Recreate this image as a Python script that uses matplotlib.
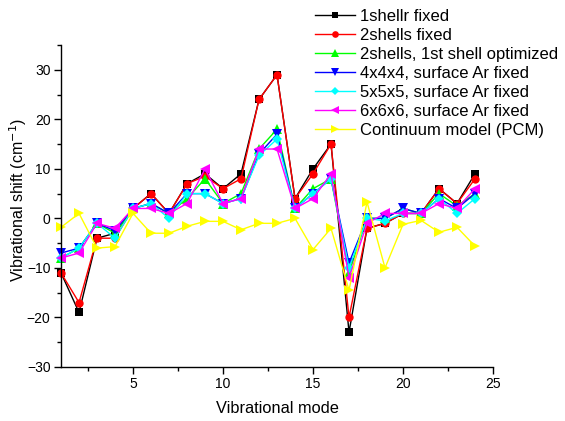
import matplotlib
matplotlib.use("Agg")
import matplotlib.pyplot as plt
from matplotlib.ticker import MultipleLocator

plt.rcParams['font.family'] = ['Liberation Sans', 'DejaVu Sans']

modes = list(range(1, 25))

shell1_fixed = [-11, -19, -4, -3, 2, 5, 1, 7, 9, 6, 9, 24, 29, 4, 10, 15, -23, -2, -1, 1, 1, 6, 3, 9]
shells2_fixed = [-11, -17, -4, -4, 2, 5, 1, 7, 8.5, 6, 8, 24, 29, 4, 9, 15, -20, -2, -1, 1, 1, 6, 3, 8]
shells2_opt = [-8, -6, -1, -3, 2, 3, 1, 4, 8, 3, 5, 14, 18, 2, 6, 8, -11, 0, 0, 2, 1, 5, 2.5, 5]
ar4 = [-7, -6, -1, -2.5, 2, 3, 1, 5, 5, 3, 4, 13, 17, 2, 5, 8, -9, 0, 0, 2, 1, 4, 2, 5]
ar5 = [-8, -6, -1, -4, 2, 3, 0, 5, 5, 3, 4, 12.7, 16, 2, 5, 8, -10, 0, -0.5, 1, 1, 4, 1, 4]
ar6 = [-8, -7, -1, -2, 2, 2, 1, 3, 10, 3, 4, 14, 14, 2, 4, 9, -12, -1, 1, 1, 1, 3, 2, 6]
pcm = [-1.8, 1, -6, -5.7, 1, -3, -3, -1.6, -0.6, -0.6, -2.3, -1, -1, 0, -6.3, -2, -14.5, 3.3, -10, -1.2, -0.4, -2.8, -1.8, -5.6]

series = [
    ("1shellr fixed", shell1_fixed, "black", "s", 5.5),
    ("2shells fixed", shells2_fixed, "red", "o", 6),
    ("2shells, 1st shell optimized", shells2_opt, "#00ff00", "^", 7),
    ("4x4x4, surface Ar fixed", ar4, "blue", "v", 7),
    ("5x5x5, surface Ar fixed", ar5, "cyan", "D", 5.5),
    ("6x6x6, surface Ar fixed", ar6, "magenta", "<", 7),
    ("Continuum model (PCM)", pcm, "yellow", ">", 7),
]

fig = plt.figure(figsize=(5.65, 4.21), dpi=100)
ax = fig.add_axes([0.108, 0.1283, 0.7646, 0.7648])

for label, vals, color, marker, ms in series:
    ax.plot(modes, vals, color=color, marker=marker, ms=ms, lw=1.0,
            markeredgewidth=0, label=label, clip_on=False)

ax.set_xlim(1, 25)
ax.set_ylim(-30, 35)
ax.set_yticks([-30, -20, -10, 0, 10, 20, 30])
ax.yaxis.set_minor_locator(MultipleLocator(5))
ax.set_xticks([5, 10, 15, 20, 25])
ax.xaxis.set_minor_locator(MultipleLocator(2.5))
ax.tick_params(axis='both', which='major', direction='out', length=5, width=1, labelsize=10, pad=2.5)
ax.tick_params(axis='both', which='minor', direction='out', length=3, width=1)

ax.spines['top'].set_visible(False)
ax.spines['right'].set_visible(False)
ax.spines['left'].set_linewidth(1)
ax.spines['bottom'].set_linewidth(1)

ax.set_xlabel("Vibrational mode", fontsize=11.8, labelpad=7)
ax.set_ylabel("Vibrational shift (cm$^{-1}$)", fontsize=11.5)
ax.yaxis.set_label_coords(-0.074, 0.52)

leg = fig.legend(loc='upper left', bbox_to_anchor=(315 / 565, 1 - 9 / 421),
                 frameon=False, fontsize=12, handlelength=2.4, handletextpad=0.3,
                 labelspacing=0.24, borderpad=0, borderaxespad=0, markerscale=0.8)

fig.savefig("out.png", dpi=100)
